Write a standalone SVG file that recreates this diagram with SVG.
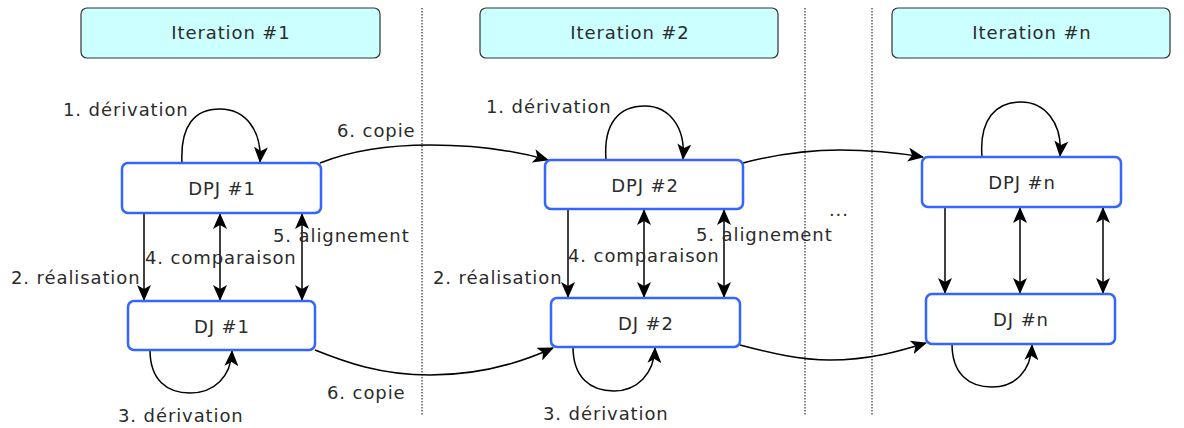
<svg xmlns="http://www.w3.org/2000/svg" width="1184" height="428" viewBox="0 0 1184 428">
<style>
.lbl{font-family:"DejaVu Sans",Verdana,sans-serif;font-size:18px;letter-spacing:0.9px;fill:#2b2b2b}
.node rect{fill:#fff;stroke:#3366ff;stroke-width:2.5}
.iter rect{fill:#ccffff;stroke:#333;stroke-width:1.2}
.ntxt{font-family:"DejaVu Sans",Verdana,sans-serif;font-size:18px;letter-spacing:0.9px;fill:#2b2b2b;text-anchor:middle}
.sep{stroke:#333;stroke-width:1.2;stroke-dasharray:1.5,1.5;fill:none}
.c{fill:none;stroke:#000;stroke-width:1.5}
.one{marker-end:url(#ah)}
.two{marker-end:url(#ah);marker-start:url(#ahs)}
</style>
<defs>
<marker id="ah" viewBox="0 0 16 14" refX="15" refY="7" markerWidth="16" markerHeight="14" markerUnits="userSpaceOnUse" orient="auto">
<path d="M0,0 L16,7 L0,14 L4,7 z" fill="#000"/>
</marker>
<marker id="ahs" viewBox="0 0 16 14" refX="15" refY="7" markerWidth="16" markerHeight="14" markerUnits="userSpaceOnUse" orient="auto-start-reverse">
<path d="M0,0 L16,7 L0,14 L4,7 z" fill="#000"/>
</marker>
</defs>
<rect width="1184" height="428" fill="#fff"/>

<g id="separators">
<line class="sep" x1="422" y1="8" x2="422" y2="416"/>
<line class="sep" x1="805" y1="8" x2="805" y2="416"/>
<line class="sep" x1="872" y1="8" x2="872" y2="416"/>
</g>

<g id="iter1" class="iter"><rect x="81" y="8" width="299" height="50" rx="6"/><text class="ntxt" x="231" y="39">Iteration #1</text></g>
<g id="iter2" class="iter"><rect x="480" y="8" width="298" height="50" rx="6"/><text class="ntxt" x="630" y="39">Iteration #2</text></g>
<g id="itern" class="iter"><rect x="892" y="8" width="278" height="50" rx="6"/><text class="ntxt" x="1032" y="39">Iteration #n</text></g>

<g id="connectors">
<!-- iteration 1 -->
<path class="c one" d="M182,163 C180,125 195,109 220,109 C245,109 262,130 260,162"/>
<path class="c one" d="M150,350 C150,380 167,393 190,393 C214,393 231,377 232,351"/>
<path class="c one" d="M144,213 L144,300"/>
<path class="c two" d="M220,214 L220,300"/>
<path class="c two" d="M302,214 L302,300"/>
<path class="c one" d="M320,163 C350,151 390,145 430,145 C480,145 520,152 548,160"/>
<path class="c one" d="M315,350 C345,362 380,375 430,375 C480,375 520,363 553,348"/>
<!-- iteration 2 -->
<path class="c one" d="M606,160 C603,122 620,106 645,106 C668,106 686,126 683,159"/>
<path class="c one" d="M573,347 C573,377 590,391 614,391 C637,391 654,374 655,348"/>
<path class="c one" d="M568,209 L568,297"/>
<path class="c two" d="M644,210 L644,297"/>
<path class="c two" d="M724,210 L724,297"/>
<path class="c one" d="M743,163 C770,156 800,150 840,150 C880,150 905,154 923,157"/>
<path class="c one" d="M740,345 C770,353 800,360 830,360 C870,360 900,351 926,343"/>
<!-- iteration n -->
<path class="c one" d="M982,157 C979,119 996,102 1021,102 C1044,102 1063,122 1060,156"/>
<path class="c one" d="M952,344 C952,374 969,387 992,387 C1015,387 1031,371 1032,345"/>
<path class="c one" d="M945,207 L945,293"/>
<path class="c two" d="M1020,208 L1020,293"/>
<path class="c two" d="M1103,208 L1103,293"/>
</g>

<g id="dpj1" class="node"><rect x="122" y="163" width="199" height="50" rx="6"/><text class="ntxt" x="222" y="195">DPJ #1</text></g>
<g id="dj1" class="node"><rect x="128" y="301" width="187" height="49" rx="6"/><text class="ntxt" x="222" y="333">DJ #1</text></g>
<g id="dpj2" class="node"><rect x="545" y="160" width="198" height="49" rx="6"/><text class="ntxt" x="645" y="192">DPJ #2</text></g>
<g id="dj2" class="node"><rect x="551" y="298" width="189" height="49" rx="6"/><text class="ntxt" x="646" y="330">DJ #2</text></g>
<g id="dpjn" class="node"><rect x="922" y="157" width="199" height="50" rx="6"/><text class="ntxt" x="1022" y="189">DPJ #n</text></g>
<g id="djn" class="node"><rect x="926" y="294" width="189" height="50" rx="6"/><text class="ntxt" x="1021" y="326">DJ #n</text></g>

<g id="labels">
<text class="lbl" x="63" y="116">1. dérivation</text>
<text class="lbl" x="337" y="137">6. copie</text>
<text class="lbl" x="11" y="284">2. réalisation</text>
<text class="lbl" x="145" y="264">4. comparaison</text>
<text class="lbl" x="273" y="242">5. alignement</text>
<text class="lbl" x="118" y="422">3. dérivation</text>
<text class="lbl" x="327" y="399">6. copie</text>
<text class="lbl" x="486" y="113">1. dérivation</text>
<text class="lbl" x="433" y="284">2. réalisation</text>
<text class="lbl" x="568" y="262">4. comparaison</text>
<text class="lbl" x="696" y="241">5. alignement</text>
<text class="lbl" x="543" y="420">3. dérivation</text>
<text class="lbl" x="829" y="216">...</text>
</g>
</svg>
